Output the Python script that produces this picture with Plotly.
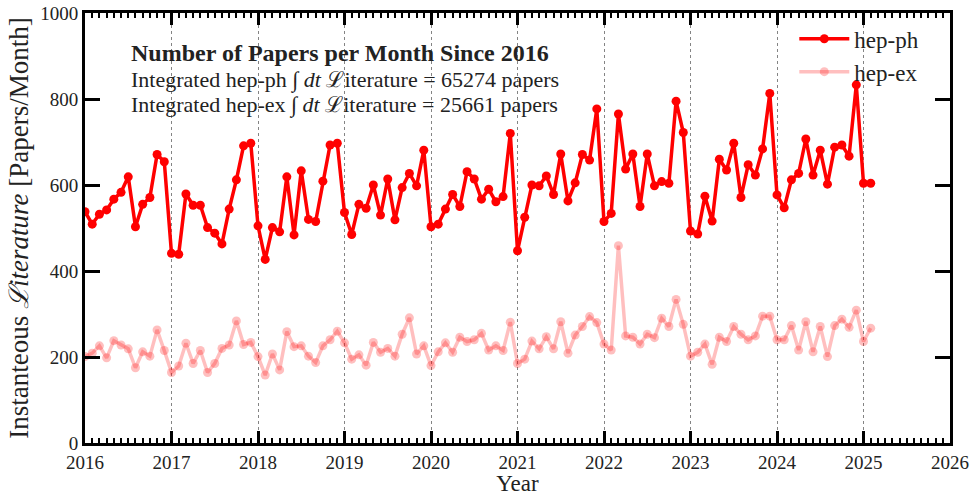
import numpy as np
import plotly.graph_objects as go

start_year = 2016
n_months = 110
hep_ph = [538, 509, 532, 542, 567, 583, 619, 503, 555, 571, 671, 654,
          441, 439, 579, 553, 553, 501, 488, 463, 544, 612, 691, 697,
          505, 427, 501, 491, 619, 484, 633, 520, 515, 609, 693, 697,
          536, 485, 555, 546, 600, 530, 614, 519, 594, 627, 598, 681,
          503, 509, 544, 578, 550, 631, 614, 567, 590, 561, 573, 720,
          447, 525, 600, 598, 621, 578, 672, 563, 605, 671, 658, 777,
          515, 534, 765, 637, 672, 550, 672, 598, 608, 604, 795, 722,
          493, 486, 574, 516, 660, 635, 697, 571, 647, 623, 684, 813,
          577, 547, 612, 627, 707, 623, 681, 602, 688, 693, 667, 833,
          604, 604]
hep_ex = [201, 209, 226, 198, 238, 228, 219, 175, 212, 202, 263, 215,
          164, 179, 232, 185, 215, 164, 185, 220, 228, 284, 229, 234,
          201, 158, 207, 170, 259, 224, 226, 202, 187, 226, 240, 260,
          233, 195, 205, 181, 234, 211, 220, 202, 253, 291, 207, 226,
          180, 212, 233, 211, 246, 236, 240, 255, 216, 226, 215, 281,
          185, 195, 237, 219, 247, 219, 282, 209, 251, 271, 294, 280,
          230, 216, 459, 249, 246, 230, 253, 245, 290, 271, 334, 276,
          202, 211, 230, 183, 246, 236, 271, 253, 240, 249, 295, 295,
          240, 240, 273, 216, 282, 212, 271, 201, 273, 288, 269, 309,
          236, 267]
year_ticks = list(range(2016, 2027))
y_ticks = [0, 200, 400, 600, 800, 1000]
total_ph = 65274
total_ex = 25661

x = start_year + np.arange(n_months) / 12.0

font_family = "Liberation Serif, DejaVu Serif, serif"

fig = go.Figure()
fig.add_trace(go.Scatter(
    x=x, y=hep_ph, mode="lines+markers", name="hep-ph",
    line=dict(color="rgb(255,0,0)", width=3.5),
    marker=dict(color="rgb(255,0,0)", size=9),
))
fig.add_trace(go.Scatter(
    x=x, y=hep_ex, mode="lines+markers", name="hep-ex",
    line=dict(color="rgba(255,0,0,0.25)", width=3.5),
    marker=dict(color="rgba(255,0,0,0.25)", size=9),
))

tickfont = dict(family=font_family, size=19, color="#222")

fig.update_layout(
    xaxis=dict(
        range=[2016, 2026], tickmode="linear", tick0=2016, dtick=1,
        ticks="inside", ticklen=12, tickwidth=2.5, tickcolor="black",
        showline=True, linecolor="black", linewidth=3, mirror=True,
        showgrid=True, gridcolor="rgba(80,80,80,0.7)", gridwidth=1, griddash="dot",
        minor=dict(dtick=1/12, tick0=2016, ticks="inside", ticklen=5, tickwidth=1.5,
                   tickcolor="black", showgrid=False),
        tickfont=tickfont, zeroline=False, automargin=False,
        title=dict(text="Year", font=dict(family=font_family, size=23, color="#222"), standoff=8),
    ),
    xaxis2=dict(
        overlaying="x", matches="x", side="top", anchor="y",
        range=[2016, 2026], tickmode="linear", tick0=2016, dtick=1,
        ticks="inside", ticklen=12, tickwidth=2.5, tickcolor="black",
        minor=dict(dtick=1/12, tick0=2016, ticks="inside", ticklen=5, tickwidth=1.5,
                   tickcolor="black", showgrid=False),
        showticklabels=False, showgrid=False, zeroline=False, automargin=False,
    ),
    yaxis=dict(
        range=[0, 1000], tickmode="array", tickvals=y_ticks,
        ticks="inside", ticklen=15, tickwidth=3, tickcolor="black",
        showline=True, linecolor="black", linewidth=3, mirror=True,
        showgrid=False, tickfont=tickfont, zeroline=False, automargin=False,
        title=dict(text="Instanteous <i>ℒiterature</i> [Papers/Month]",
                   font=dict(family=font_family, size=27, color="#222"), standoff=4),
    ),
    yaxis2=dict(
        overlaying="y", matches="y", side="right", anchor="x",
        range=[0, 1000], tickmode="array", tickvals=y_ticks,
        ticks="inside", ticklen=15, tickwidth=3, tickcolor="black",
        showticklabels=False, showgrid=False, zeroline=False, automargin=False,
    ),
)
# invisible helper trace so the mirrored (top/right) axes get drawn
fig.add_trace(go.Scatter(x=[x[0]], y=[hep_ph[0]], xaxis="x2", yaxis="y2",
                         mode="markers", marker=dict(opacity=0), showlegend=False,
                         hoverinfo="skip"))

text_font = dict(family=font_family, size=22, color="#222")
fig.add_annotation(x=0.051, y=0.907, xref="paper", yref="paper", xanchor="left", yanchor="middle",
                   text="<b>Number of Papers per Month Since 2016</b>", showarrow=False,
                   font=dict(family=font_family, size=24, color="#222"))
fig.add_annotation(x=0.051, y=0.844, xref="paper", yref="paper", xanchor="left", yanchor="middle",
                   text=f"Integrated hep-ph ∫ <i>dt</i> ℒiterature = {total_ph} papers",
                   showarrow=False, font=text_font)
fig.add_annotation(x=0.051, y=0.786, xref="paper", yref="paper", xanchor="left", yanchor="middle",
                   text=f"Integrated hep-ex ∫ <i>dt</i> ℒiterature = {total_ex} papers",
                   showarrow=False, font=text_font)

fig.update_layout(
    width=973, height=496,
    margin=dict(l=85, r=23, t=13, b=53),
    plot_bgcolor="white", paper_bgcolor="white",
    showlegend=True,
    legend=dict(x=0.82, y=0.99, xanchor="left", yanchor="top",
                bgcolor="rgba(0,0,0,0)", font=dict(family=font_family, size=23, color="#222"),
                tracegroupgap=0, itemwidth=50),
)

fig.write_html("out.html", config={"displayModeBar": False},
               post_script="document.body.style.margin='0px';")
